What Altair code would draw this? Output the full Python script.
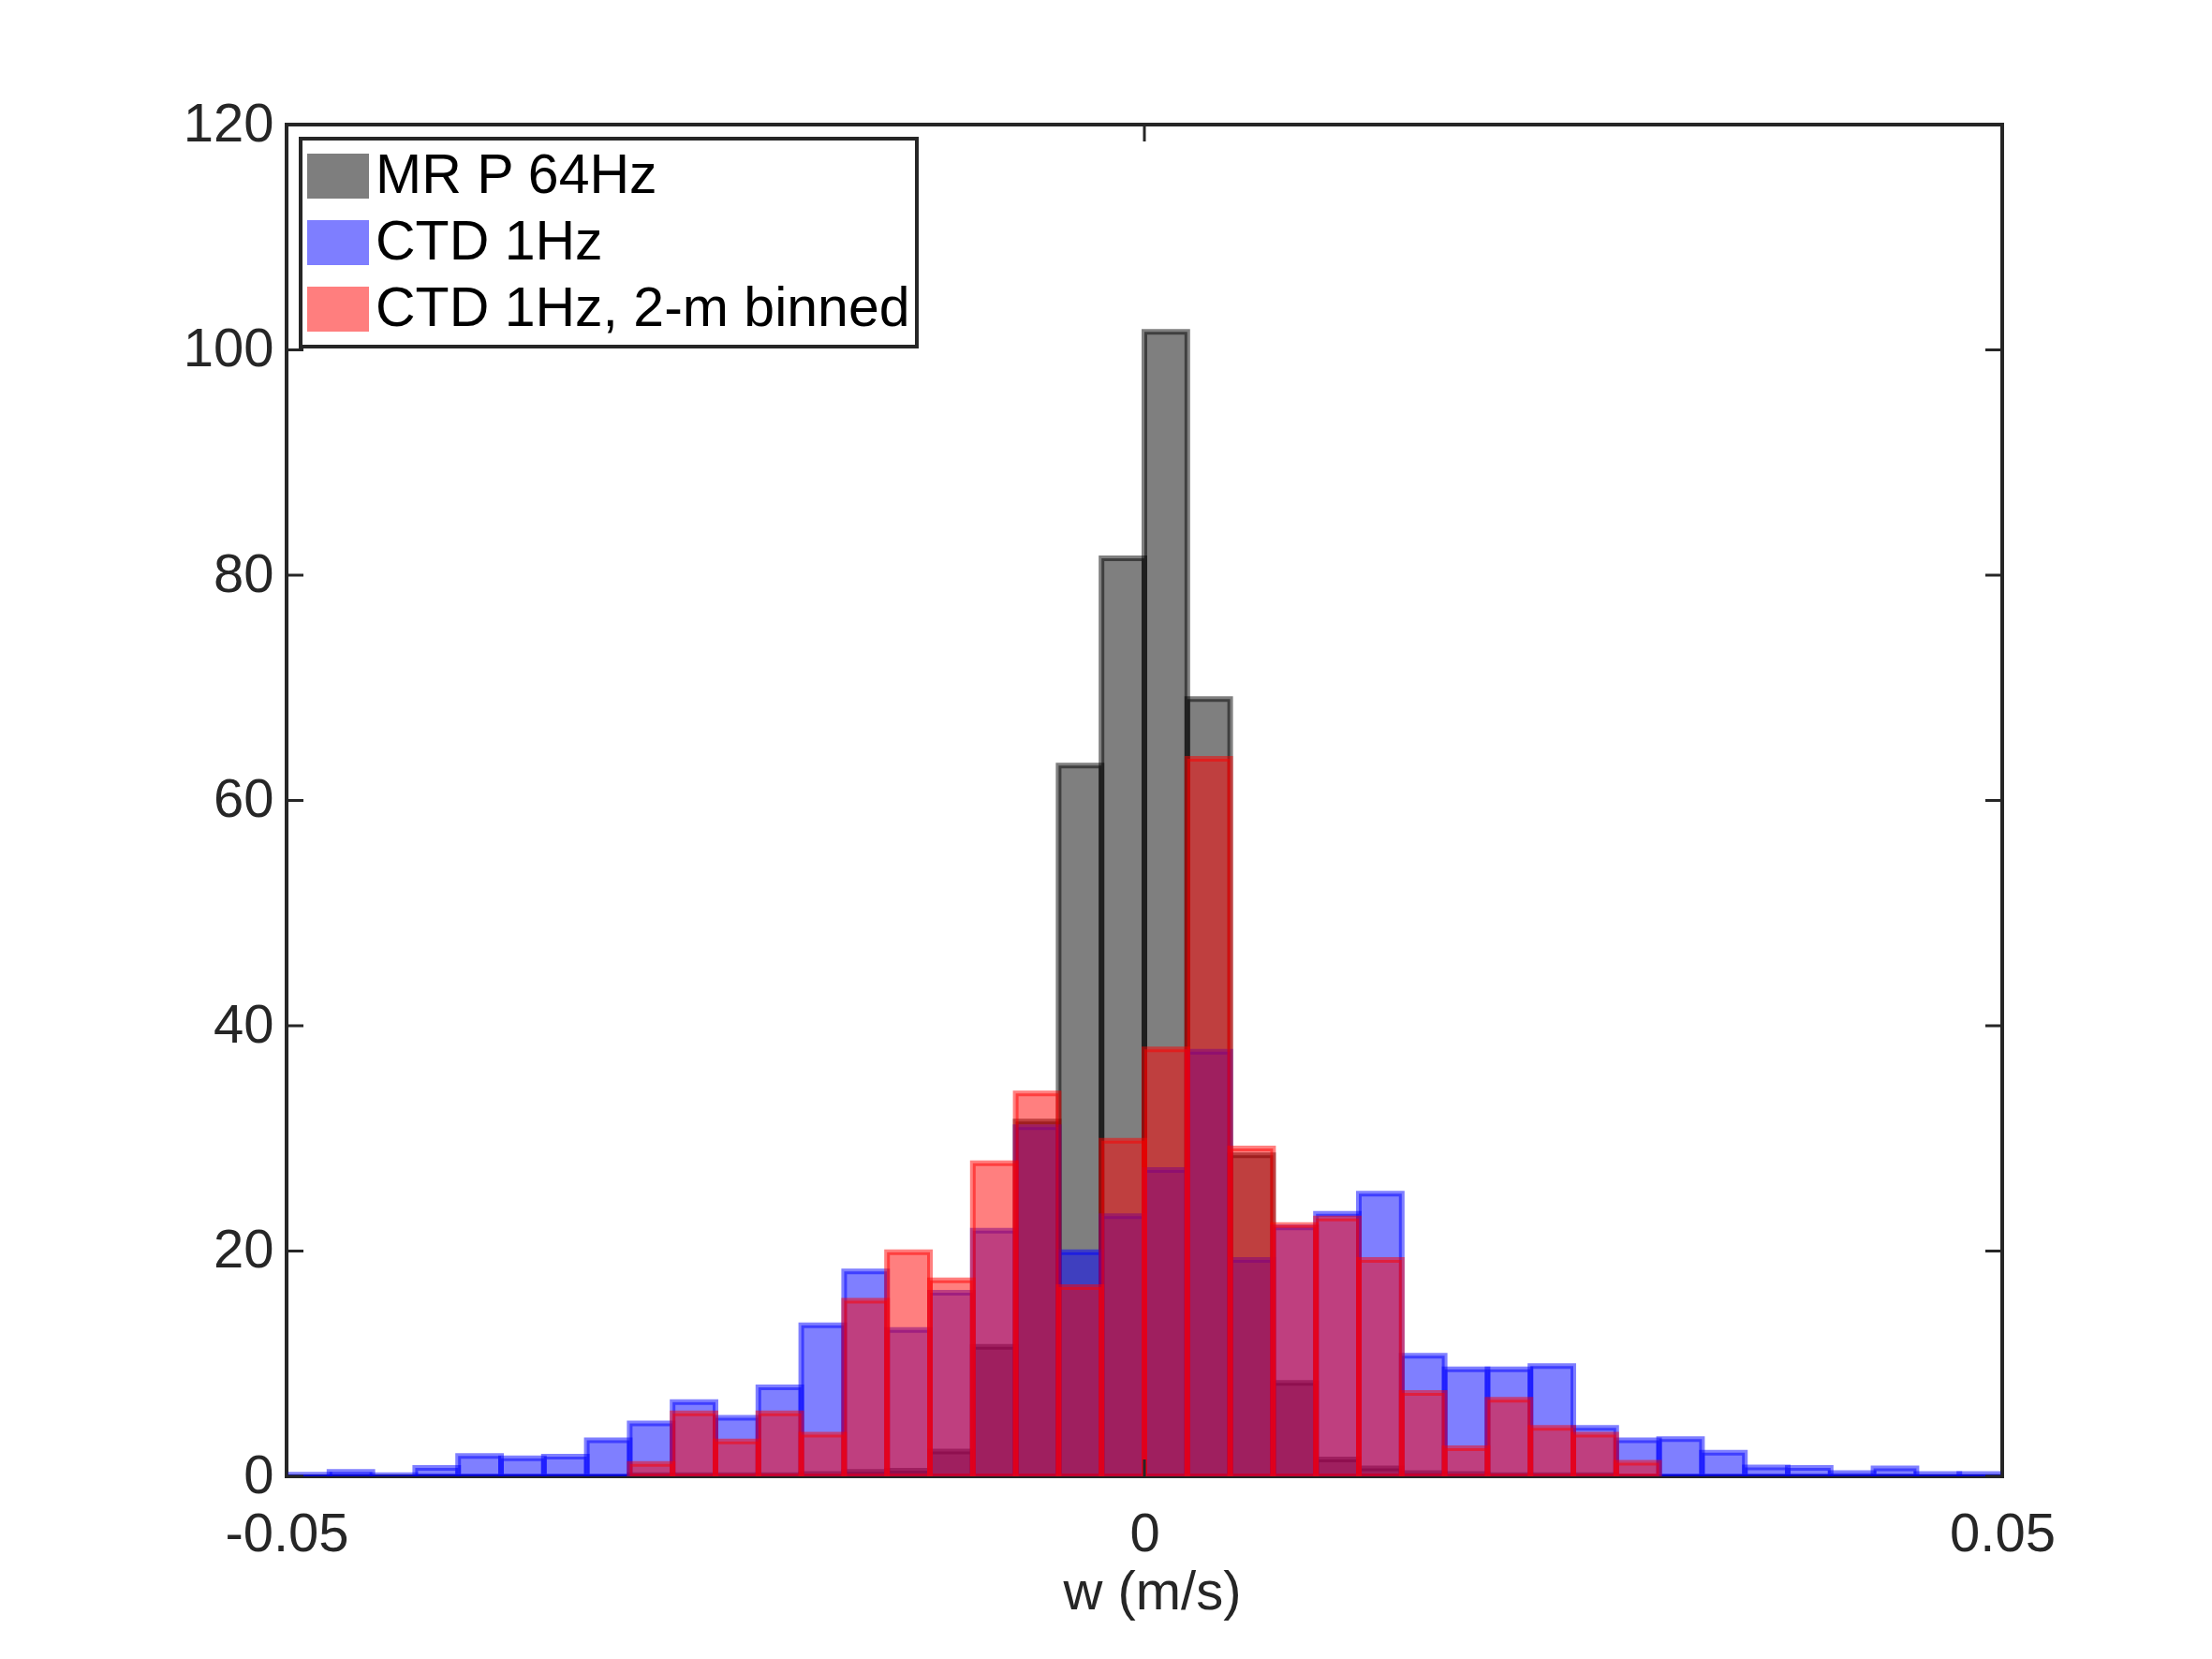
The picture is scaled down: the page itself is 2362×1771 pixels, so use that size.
import altair as alt
import pandas as pd

# ---- data (pdf-normalised histograms) ----
BIN_START = -0.05
BIN_WIDTH = 0.0025

series_names = ["MR P 64Hz", "CTD 1Hz", "CTD 1Hz, 2-m binned"]
series_colors = ["#000000", "#0000FF", "#FF0000"]

mr_p_64hz = [0, 0, 0, 0, 0, 0, 0, 0,
             0.1, 0.1, 0.1, 0.1, 0.2,
             0.4, 0.5, 2.2, 11.5, 31.5, 63.1, 81.5, 101.6, 69.0, 28.5, 8.3, 1.5, 0.7, 0.3, 0.2, 0.1, 0.1, 0.1,
             0, 0, 0, 0, 0, 0, 0, 0, 0]
ctd_1hz = [0.15, 0.4, 0.1, 0.75, 1.8, 1.6, 1.75, 3.2, 4.7, 6.6,
           5.2, 7.9, 13.4, 18.2, 13.0, 16.3, 21.8, 31.0, 19.9, 23.1,
           27.2, 37.7, 19.2, 22.1, 23.3, 25.1, 10.7, 9.5, 9.5, 9.8,
           4.3, 3.2, 3.3, 2.1, 0.8, 0.75, 0.3, 0.7, 0.2, 0.2]
ctd_1hz_binned = [0, 0, 0, 0, 0, 0, 0, 0,
                  1.1, 5.6, 3.1, 5.6, 3.7,
                  15.6, 19.9, 17.4, 27.8, 34.0, 16.8, 29.8, 37.9, 63.7, 29.1,
                  22.3, 22.9, 19.2, 7.4, 2.5, 6.8, 4.3, 3.7, 1.2,
                  0, 0, 0, 0, 0, 0, 0, 0]

y_tick_values = [0, 20, 40, 60, 80, 100, 120]
x_tick_values = [-0.05, 0, 0.05]

rows = []
for name, vals in zip(series_names, [mr_p_64hz, ctd_1hz, ctd_1hz_binned]):
    for i, v in enumerate(vals):
        if v > 0:
            lo = round(BIN_START + i * BIN_WIDTH, 6)
            rows.append({"series": name, "x0": lo, "x1": round(lo + BIN_WIDTH, 6), "value": v})
df = pd.DataFrame(rows)

W, H = 1832, 1443
TICK = 18
AX = "#262626"
FONT = "Liberation Sans"

legend = alt.Legend(
    title=None, orient="none", legendX=15, legendY=15, direction="vertical",
    symbolType="M-1,-0.7H1V0.7H-1Z", symbolSize=3600, symbolStrokeWidth=6,
    symbolOpacity=0.5,
    labelFontSize=59, labelFont=FONT, labelColor="#000000", labelOffset=7, labelLimit=2000,
    rowPadding=5, padding=7, strokeColor=AX, fillColor="white",
)

xscale = alt.Scale(domain=[-0.05, 0.05], nice=False, zero=False)
yscale = alt.Scale(domain=[0, 120], nice=False, zero=True)

x_axis = alt.Axis(
    values=x_tick_values, title="w (m/s)", tickSize=0, domain=False, grid=False,
    labelExpr="replace(format(datum.value, '.2~f'), '\u2212', '-')",
    labelFontSize=58, labelFont=FONT, labelColor=AX, labelPadding=33,
    labelFlush=False, labelOverlap=False, labelBound=False,
    titleFontSize=58, titleFont=FONT, titleFontWeight="normal", titleColor=AX,
    titleBaseline="alphabetic", titleY=141, titleX=W / 2 + 8, titleAlign="center")
y_axis = alt.Axis(
    values=y_tick_values, title=None, tickSize=0, domain=False, grid=False,
    labelFontSize=58, labelFont=FONT, labelColor=AX, labelPadding=14)

name_scale = alt.Scale(domain=series_names, range=series_colors)

bars = alt.Chart(df).mark_bar(
    strokeWidth=6, clip=True, strokeJoin="miter", fillOpacity=0.5, strokeOpacity=0.5
).encode(
    x=alt.X("x0:Q", scale=xscale, axis=x_axis),
    x2="x1:Q",
    y=alt.Y("value:Q", scale=yscale, axis=y_axis),
    y2=alt.datum(0),
    fill=alt.Fill("series:N", scale=name_scale, legend=legend),
    stroke=alt.Stroke("series:N", scale=name_scale, legend=legend),
)

ydf = pd.DataFrame({"t": y_tick_values})
xdf = pd.DataFrame({"t": x_tick_values})

ytick_left = alt.Chart(ydf).mark_rule(color=AX, strokeWidth=3).encode(
    y=alt.Y("t:Q", scale=yscale, axis=y_axis), x=alt.value(0), x2=alt.value(TICK))
ytick_right = alt.Chart(ydf).mark_rule(color=AX, strokeWidth=3).encode(
    y=alt.Y("t:Q", scale=yscale, axis=y_axis), x=alt.value(W - TICK), x2=alt.value(W))
xtick_bottom = alt.Chart(xdf).mark_rule(color=AX, strokeWidth=3).encode(
    x=alt.X("t:Q", scale=xscale, axis=x_axis), y=alt.value(H - TICK), y2=alt.value(H))
xtick_top = alt.Chart(xdf).mark_rule(color=AX, strokeWidth=3).encode(
    x=alt.X("t:Q", scale=xscale, axis=x_axis), y=alt.value(0), y2=alt.value(TICK))

chart = alt.layer(bars, ytick_left, ytick_right, xtick_bottom, xtick_top).properties(
    width=W, height=H,
    autosize=alt.AutoSizeParams(type="none"),
    padding={"left": 298, "top": 125, "right": 216, "bottom": 187},
).configure(font=FONT, background="white").configure_view(
    stroke=AX, strokeWidth=4
).configure_legend(strokeWidth=4)

chart.save("out.html", embed_options={"renderer": "svg", "actions": False})
